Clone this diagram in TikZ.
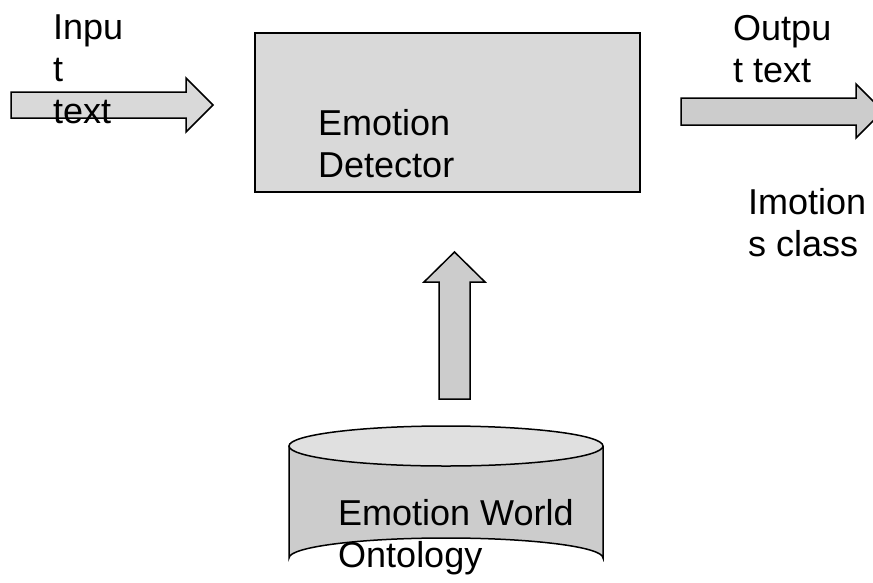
\documentclass[tikz,border=0pt]{standalone}
\usepackage{fontspec}
\setmainfont{Liberation Sans}
\tikzset{
  blockfill/.style={draw=black, line width=1.5pt, line join=miter},
  lbl/.style={anchor=base west, align=left, inner sep=0pt, font=\fontsize{36}{42}\selectfont},
}
\definecolor{boxgray}{HTML}{D9D9D9}
\definecolor{arrgray}{HTML}{CCCCCC}
\definecolor{topgray}{HTML}{E0E0E0}
\begin{document}
\begin{tikzpicture}[x=1pt,y=-1pt]
\useasboundingbox (0,0) rectangle (873,582);
% detector box
\node[blockfill, fill=boxgray, minimum width=385pt, minimum height=159pt, inner sep=0pt, anchor=north west] (det) at (254,32) {};
% input arrow
\draw[blockfill, fill=boxgray] (11,92) -- (186,92) -- (186,78) -- (213,105) -- (186,132) -- (186,118) -- (11,118) -- cycle;
% output arrow
\draw[blockfill, fill=arrgray] (681,98) -- (856,98) -- (856,84) -- (883,111) -- (856,138) -- (856,125) -- (681,125) -- cycle;
% cylinder
\fill[arrgray] (289,446) -- (289,558) arc[start angle=180, end angle=360, x radius=157, y radius=20] -- (603,446) -- cycle;
\draw[blockfill] (289,446) -- (289,558) arc[start angle=180, end angle=360, x radius=157, y radius=20] -- (603,446);
\draw[blockfill, fill=topgray] (446,446) ellipse[x radius=157, y radius=20];
\node[inner sep=0pt, minimum width=314pt, minimum height=152pt, anchor=north west] (onto) at (289,426) {};
% up arrow
\draw[blockfill, fill=arrgray] (439,399) -- (439,282) -- (424,282) -- (454.5,252) -- (485,282) -- (470,282) -- (470,399) -- cycle;
% labels (anchor = baseline of last line)
\node[lbl] (inlbl) at (53,123) {Inpu\\t\\text};
\node[lbl] (detlbl) at (318,177) {Emotion\\Detector};
\node[lbl] (outlbl) at (733,82) {Outpu\\t text};
\node[lbl] (cls) at (748,256) {Imotion\\s class};
\node[lbl] (ontlbl) at (338,567) {Emotion World\\Ontology};
\end{tikzpicture}
\end{document}
